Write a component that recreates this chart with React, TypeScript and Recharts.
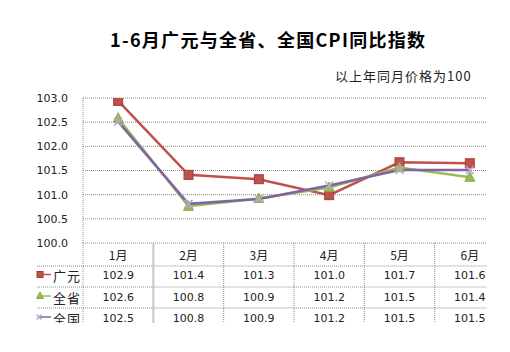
import React from "react";
import { LineChart, Line, XAxis, YAxis, CartesianGrid } from "recharts";

const months = ["1月", "2月", "3月", "4月", "5月", "6月"];
const guangyuan = [102.94, 101.41, 101.32, 100.99, 101.67, 101.65];
const province = [102.58, 100.76, 100.92, 101.15, 101.56, 101.36];
const nation = [102.51, 100.81, 100.91, 101.19, 101.51, 101.51];
const guangyuanLabels = ["102.9", "101.4", "101.3", "101.0", "101.7", "101.6"];
const provinceLabels = ["102.6", "100.8", "100.9", "101.2", "101.5", "101.4"];
const nationLabels = ["102.5", "100.8", "100.9", "101.2", "101.5", "101.5"];
const yTicks = [100, 100.5, 101, 101.5, 102, 102.5, 103];

const seriesNames = ["广元", "全省", "全国"];
const RED = "#C0504D";
const GREEN = "#9BBB59";
const PURPLE = "#8064A2";
const GRID = "#8c8c8c";
const NUM_FONT = "'DejaVu Sans', Verdana, sans-serif";
const CJK_FONT = "'Noto Sans CJK SC', sans-serif";

const data = months.map((m, i) => ({
  month: m,
  gy: guangyuan[i],
  sheng: province[i],
  guo: nation[i],
}));
const tableRows = [guangyuanLabels, provinceLabels, nationLabels];

const HALF = 35.17; // half band width of one month column

function squareMark(cx: number, cy: number, key?: string, s = 9) {
  return <rect key={key} x={cx - s / 2} y={cy - s / 2} width={s} height={s} fill={RED} stroke="#a33c39" strokeWidth={1} />;
}
function triMark(cx: number, cy: number, key?: string, s = 9) {
  const h = s / 2;
  return (
    <polygon
      key={key}
      points={`${cx},${cy - h - 1} ${cx + h + 0.5},${cy + h - 0.5} ${cx - h - 0.5},${cy + h - 0.5}`}
      fill={GREEN}
      stroke="#8aa94c"
      strokeWidth={1}
    />
  );
}
function xMark(cx: number, cy: number, key?: string, s = 9) {
  const h = s / 2 - 0.5;
  return (
    <g key={key}>
      <line x1={cx - h} y1={cy - h} x2={cx + h} y2={cy + h} stroke="#b7a6d6" strokeWidth={1.5} />
      <line x1={cx - h} y1={cy + h} x2={cx + h} y2={cy - h} stroke="#b7a6d6" strokeWidth={1.5} />
    </g>
  );
}

const markers = [squareMark, triMark, xMark];
const colors = [RED, GREEN, PURPLE];

function TableTick(props: any) {
  const { x, y, payload } = props;
  const i = payload.index ?? props.index;
  const top = y;
  const rowLines = [top + 23, top + 44, top + 65];
  const rowText = [top + 32.5, top + 54, top + 75];
  const left = x - HALF;
  const right = x + HALF;
  return (
    <g>
      <text x={x} y={top + 11} textAnchor="middle" dominantBaseline="central" fontSize={12} fontFamily={CJK_FONT} fill="#222">
        {months[i]}
      </text>
      {rowLines.map((ly, k) => (
        <line key={"h" + k} x1={left} x2={right} y1={ly} y2={ly} stroke={GRID} strokeDasharray="1 1" />
      ))}
      {tableRows.map((row, k) => (
        <text key={"t" + k} x={x} y={rowText[k]} textAnchor="middle" dominantBaseline="central" fontSize={11} fontFamily={NUM_FONT} fill="#222">
          {row[i]}
        </text>
      ))}
      {i === 0 ? (
        <line x1={right} x2={right} y1={top} y2={top + 80} stroke="#c8c8c8" strokeWidth={2} />
      ) : (
        <line x1={right} x2={right} y1={top} y2={top + 80} stroke={GRID} strokeDasharray="1 1" />
      )}
      {i === 0 && (
        <g>
          <line x1={left} x2={left} y1={top} y2={top + 80} stroke={GRID} strokeDasharray="1 1" />
          {rowLines.map((ly, k) => (
            <line key={"lh" + k} x1={37} x2={left} y1={ly} y2={ly} stroke={GRID} strokeDasharray="1 1" />
          ))}
          {seriesNames.map((name, k) => (
            <g key={"lg" + k}>
              <line x1={38} x2={51} y1={rowText[k] - 1} y2={rowText[k] - 1} stroke={colors[k]} strokeWidth={1.5} />
              {markers[k](k === 2 ? 39 : 40, rowText[k] - 1, undefined, 6)}
              <text x={53} y={rowText[k]} dominantBaseline="central" fontSize={13} fontFamily={CJK_FONT} fill="#222" letterSpacing={1}>
                {name}
              </text>
            </g>
          ))}
        </g>
      )}
    </g>
  );
}

export default function App() {
  return (
    <div style={{ position: "absolute", left: 0, top: 0, width: 510, height: 352, background: "#fff" }}>
      <div
        style={{
          position: "absolute",
          left: 110,
          top: 27,
          lineHeight: "24px",
          fontSize: 18,
          fontWeight: "bold",
          fontFamily: CJK_FONT,
          letterSpacing: 1.3,
          whiteSpace: "nowrap",
          color: "#000",
        }}
      >
        1-6月广元与全省、全国CPI同比指数
      </div>
      <div
        style={{
          position: "absolute",
          left: 335,
          top: 67,
          lineHeight: "18px",
          fontSize: 13,
          fontFamily: CJK_FONT,
          letterSpacing: 1,
          whiteSpace: "nowrap",
          color: "#222",
        }}
      >
        以上年同月价格为100
      </div>
      <div style={{ position: "absolute", left: 0, top: 0, width: 487, height: 323, overflow: "hidden" }}>
        <LineChart width={510} height={323} data={data} margin={{ top: 98, right: 5, bottom: 0, left: 0 }}>
          <CartesianGrid vertical={false} stroke={GRID} strokeDasharray="1 1" />
          <XAxis
            dataKey="month"
            height={80}
            padding={{ left: HALF, right: HALF }}
            axisLine={false}
            tickLine={false}
            tickSize={0}
            tickMargin={0}
            interval={0}
            tick={<TableTick />}
          />
          <YAxis
            width={83}
            domain={[100, 103]}
            ticks={yTicks}
            tickFormatter={(v: number) => v.toFixed(1)}
            axisLine={{ stroke: GRID, strokeDasharray: "1 1" }}
            tickLine={false}
            tickSize={0}
            tickMargin={15}
            tick={{ fontSize: 11, fontFamily: NUM_FONT, fill: "#222" }}
            allowDataOverflow
          />
          <Line
            dataKey="gy"
            stroke={RED}
            strokeWidth={2.5}
            isAnimationActive={false}
            dot={(p: any) => squareMark(p.cx, p.cy, "gy" + p.index)}
            activeDot={false}
          />
          <Line
            dataKey="sheng"
            stroke={GREEN}
            strokeWidth={2.5}
            isAnimationActive={false}
            dot={(p: any) => triMark(p.cx, p.cy, "sh" + p.index)}
            activeDot={false}
          />
          <Line
            dataKey="guo"
            stroke={PURPLE}
            strokeWidth={2.5}
            isAnimationActive={false}
            dot={(p: any) => xMark(p.cx, p.cy, "guo" + p.index)}
            activeDot={false}
          />
        </LineChart>
      </div>
    </div>
  );
}
